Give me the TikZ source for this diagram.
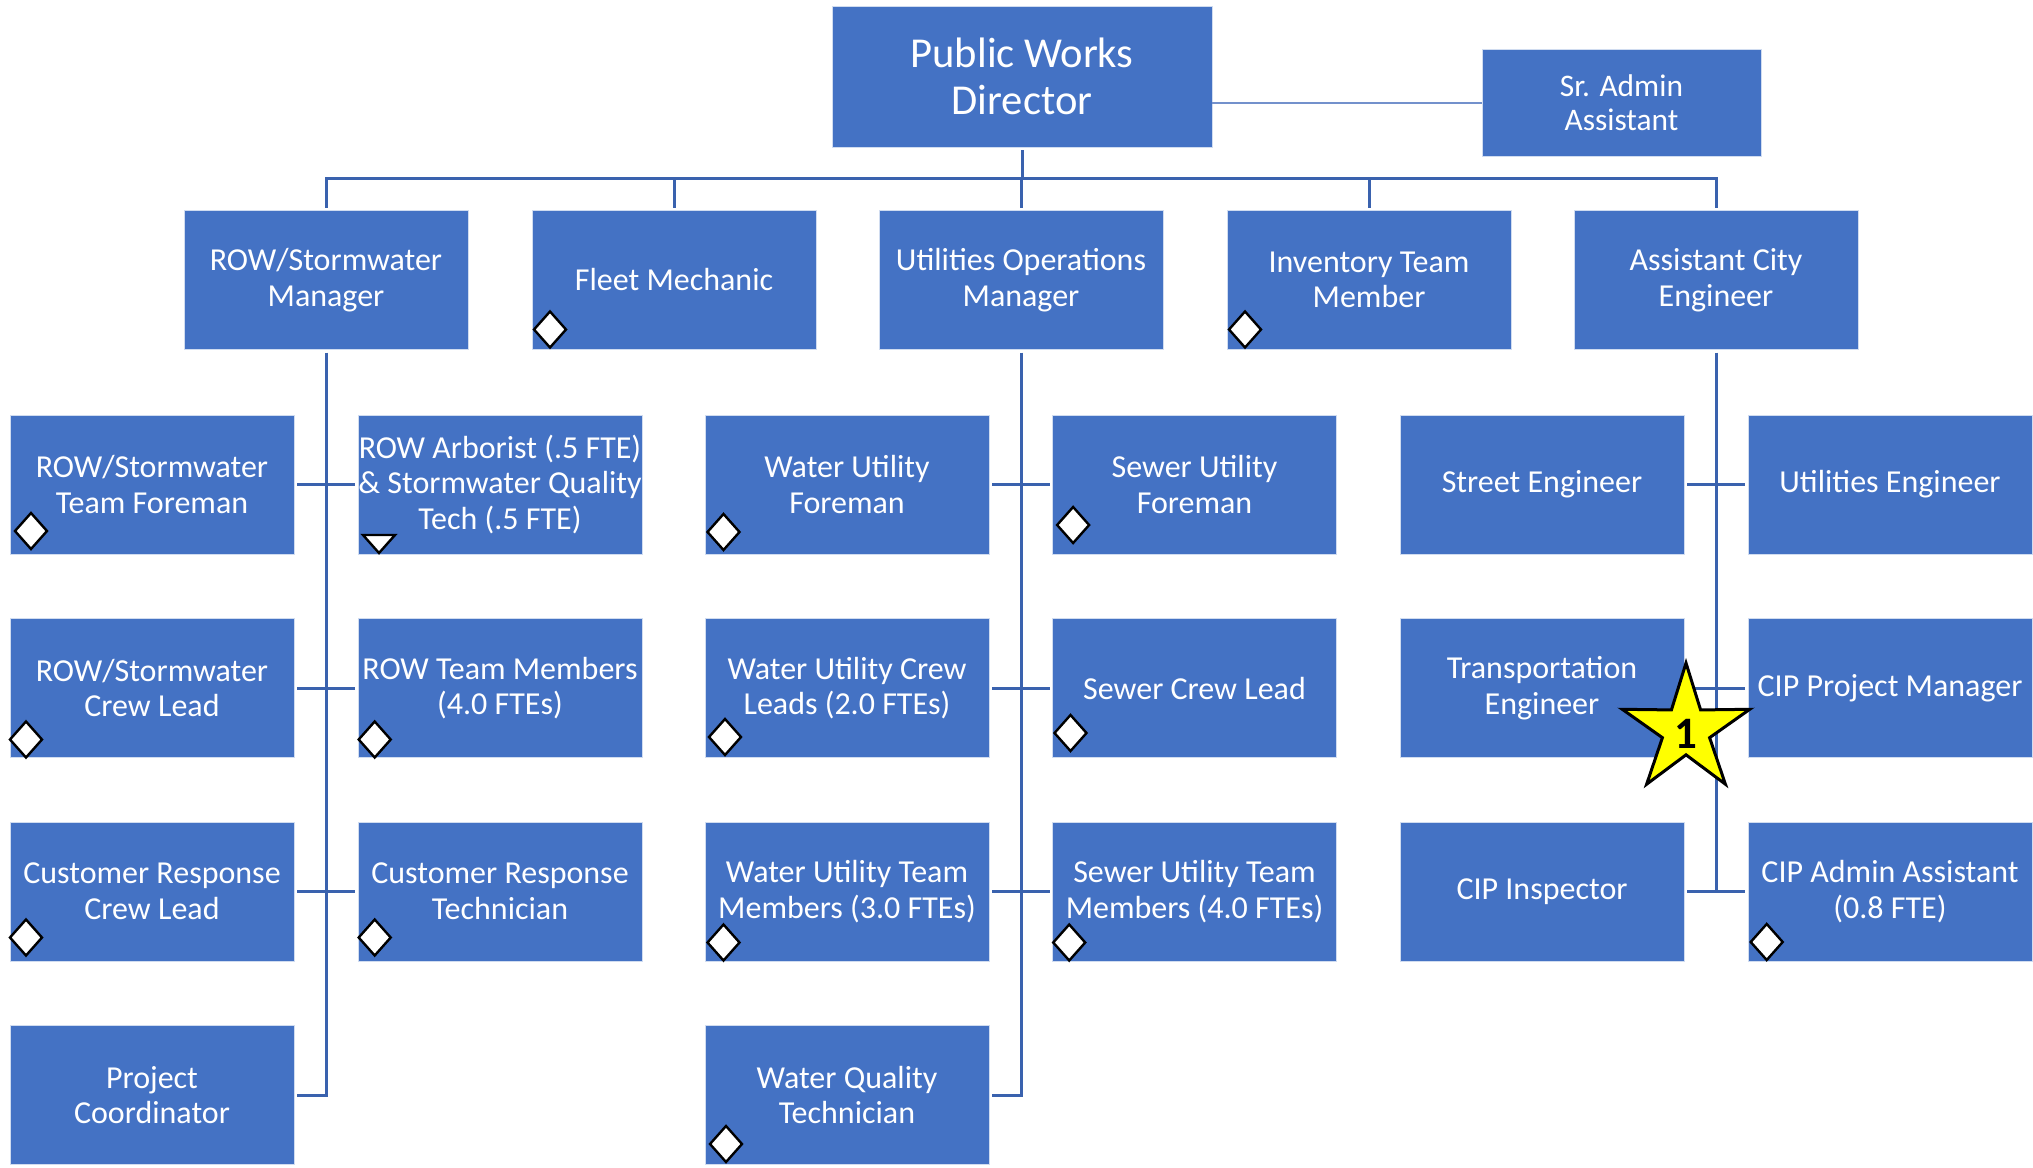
\documentclass[tikz,border=0pt]{standalone}
\usepackage{fontspec}
\setmainfont{Carlito}
\usetikzlibrary{shapes.geometric}
\definecolor{boxblue}{HTML}{4472C4}
\definecolor{linkblue}{HTML}{3A62AE}
\definecolor{sidelink}{HTML}{7391CC}
\definecolor{staryellow}{HTML}{FFFF00}
\begin{document}
\begin{tikzpicture}[x=0.5pt,y=-0.5pt,
  unit/.style={rectangle, fill=boxblue, draw=white!75!boxblue, line width=0.4pt,
    text=white, align=center, inner sep=0pt, outer sep=0pt,
    minimum width=142pt, minimum height=69.5pt,
    font=\fontsize{16}{17.8}\selectfont},
  link/.style={draw=linkblue, line width=1.5pt},
  gap/.style={shorten <=1.5pt, shorten >=1.5pt},
  marker/.style={fill=white, draw=black, line width=1.2pt, line join=miter},
  diam/.pic={\draw[marker] (0,-18) -- (16,0) -- (0,18) -- (-16,0) -- cycle;},
  notch/.pic={\draw[marker] (-16,-9) -- (16,-9) -- (0,9) -- cycle;}
]
\fill[white] (0,0) rectangle (2033,1167);
\useasboundingbox (0,0) rectangle (2033,1167);

% top level
\node[unit, minimum width=190pt, minimum height=70.5pt,
  font=\fontsize{21.3}{23.5}\selectfont] (dir) at (1022,76.5) {Public Works\\Director};
\node[unit, minimum width=139.5pt, minimum height=53.5pt,
  font=\fontsize{15.7}{16.8}\selectfont] (admin) at (1621.5,102.5) {Sr. Admin\\Assistant};

% managers
\node[unit] (m1) at (326,280) {ROW/Stormwater\\Manager};
\node[unit] (m2) at (674,280) {Fleet Mechanic};
\node[unit] (m3) at (1021,280) {Utilities Operations\\Manager};
\node[unit] (m4) at (1369,280) {Inventory Team\\Member};
\node[unit] (m5) at (1716,280) {Assistant City\\Engineer};

% ROW / stormwater group
\node[unit] (a1) at (152,484.5) {ROW/Stormwater\\Team Foreman};
\node[unit] (a2) at (152,688) {ROW/Stormwater\\Crew Lead};
\node[unit] (a3) at (152,891.5) {Customer Response\\Crew Lead};
\node[unit] (a4) at (152,1095) {Project\\Coordinator};
\node[unit] (b1) at (500,484.5) {ROW Arborist (.5 FTE)\\\& Stormwater Quality\\Tech (.5 FTE)};
\node[unit] (b2) at (500,688) {ROW Team Members\\(4.0 FTEs)};
\node[unit] (b3) at (500,891.5) {Customer Response\\Technician};

% utilities group
\node[unit] (c1) at (847,484.5) {Water Utility\\Foreman};
\node[unit] (c2) at (847,688) {Water Utility Crew\\Leads (2.0 FTEs)};
\node[unit] (c3) at (847,891.5) {Water Utility Team\\Members (3.0 FTEs)};
\node[unit] (c4) at (847,1095) {Water Quality\\Technician};
\node[unit] (d1) at (1194.5,484.5) {Sewer Utility\\Foreman};
\node[unit] (d2) at (1194.5,688) {Sewer Crew Lead};
\node[unit] (d3) at (1194.5,891.5) {Sewer Utility Team\\Members (4.0 FTEs)};

% engineering group
\node[unit] (e1) at (1542,484.5) {Street Engineer};
\node[unit] (e2) at (1542,688) {Transportation\\Engineer};
\node[unit] (e3) at (1542,891.5) {CIP Inspector};
\node[unit] (f1) at (1890,484.5) {Utilities Engineer};
\node[unit] (f2) at (1890,688) {CIP Project Manager};
\node[unit] (f3) at (1890,891.5) {CIP Admin Assistant\\(0.8 FTE)};

% director links
\draw[draw=sidelink, line width=1pt] (dir.east |- admin.west) -- (admin.west);
\draw[link, shorten <=1.5pt] (dir.south) -- ++(0,31) coordinate (bus);
\draw[link, gap] (m1.north) |- (bus) -| (m5.north);
\foreach \m in {m2,m3,m4} \draw[link, shorten <=1.5pt] (\m.north) -- (\m.north |- bus);

% group spines
\draw[link, gap] (m1.south) |- (a4.east);
\draw[link, gap] (m3.south) |- (c4.east);
\draw[link, gap] (m5.south) |- (e3.east);
\foreach \l/\r in {a1/b1,a2/b2,a3/b3,c1/d1,c2/d2,c3/d3,e1/f1,e2/f2,e3/f3}
  \draw[link, gap] (\l.east) -- (\r.west);

% position markers
\pic at ([shift={(18,-20)}]m2.south west) {diam};
\pic at ([shift={(18,-20)}]m4.south west) {diam};
\pic at ([shift={(21,-23)}]a1.south west) {diam};
\pic at ([shift={(16,-18)}]a2.south west) {diam};
\pic at ([shift={(16,-23.5)}]a3.south west) {diam};
\pic at ([shift={(21,-10)}]b1.south west) {notch};
\pic at ([shift={(16.7,-18)}]b2.south west) {diam};
\pic at ([shift={(16.7,-23.5)}]b3.south west) {diam};
\pic at ([shift={(18.5,-22)}]c1.south west) {diam};
\pic at ([shift={(20,-20.5)}]c2.south west) {diam};
\pic at ([shift={(18.5,-18.5)}]c3.south west) {diam};
\pic at ([shift={(21,-20.5)}]c4.south west) {diam};
\pic at ([shift={(20.6,-29)}]d1.south west) {diam};
\pic at ([shift={(18,-24.5)}]d2.south west) {diam};
\pic at ([shift={(16.7,-18.5)}]d3.south west) {diam};
\pic at ([shift={(18.7,-19)}]f3.south west) {diam};

% highlight star
\node[star, star points=5, star point ratio=2.7, minimum size=67pt, inner sep=0pt,
  fill=staryellow, draw=black, line width=1.5pt, line join=miter] (flag) at (1686,730) {};
\node[font=\fontsize{22.5}{22.5}\bfseries\selectfont, inner sep=0pt] (flagnum) at (1686,734) {1};
\end{tikzpicture}
\end{document}
